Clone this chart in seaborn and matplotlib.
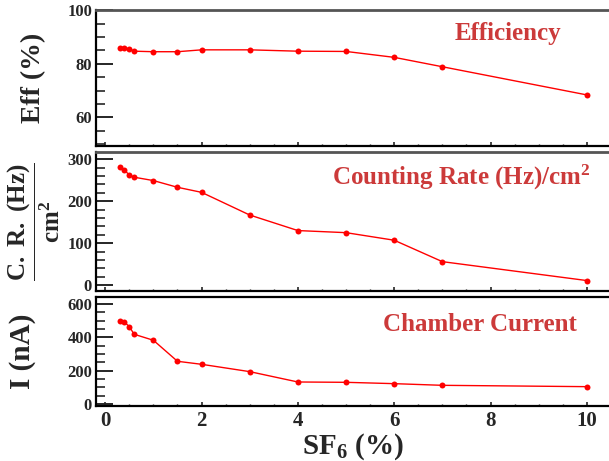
import matplotlib
matplotlib.use("Agg")
import matplotlib.pyplot as plt
import seaborn as sns
import pandas as pd
from matplotlib.ticker import MultipleLocator

sf6 = [0.3, 0.4, 0.5, 0.6, 1.0, 1.5, 2.0, 3.0, 4.0, 5.0, 6.0, 7.0, 10.0]
efficiency = [85.9, 86.0, 85.5, 84.7, 84.5, 84.5, 85.2, 85.2, 84.7, 84.6, 82.4, 78.9, 68.4]
count_rate = [282, 274, 262, 257, 249, 233, 221, 167, 130, 125, 107, 56, 11]
current = [498, 490, 464, 418, 382, 256, 238, 194, 132, 130, 122, 112, 104]

df = pd.DataFrame({"sf6": sf6, "eff": efficiency, "cr": count_rate, "cur": current})

sns.set_theme(style="ticks")
plt.rcParams["font.family"] = ["Liberation Serif", "DejaVu Serif"]
plt.rcParams["font.weight"] = "bold"
plt.rcParams["mathtext.fontset"] = "custom"
plt.rcParams["mathtext.rm"] = "Liberation Serif:bold"
plt.rcParams["mathtext.bf"] = "Liberation Serif:bold"
plt.rcParams["mathtext.it"] = "Liberation Serif:bold:italic"

fig = plt.figure(figsize=(6.09, 4.61), dpi=100)
left, width = 0.158, 0.842
ax1 = fig.add_axes([left, 0.683, width, 0.295])
ax2 = fig.add_axes([left, 0.369, width, 0.301], sharex=ax1)
ax3 = fig.add_axes([left, 0.120, width, 0.236], sharex=ax1)

red = "#ff0000"
txt_red = "#cc3a3a"
for ax, col in [(ax1, "eff"), (ax2, "cr"), (ax3, "cur")]:
    sns.lineplot(data=df, x="sf6", y=col, ax=ax, color=red, marker="o",
                 markersize=4.3, markeredgewidth=0, linewidth=1.0)
    ax.set_xlabel("")
    ax.spines["right"].set_visible(False)
    for s in ["left", "bottom"]:
        ax.spines[s].set_linewidth(1.6)
        ax.spines[s].set_color("black")
    ax.spines["top"].set_linewidth(2.0)
    ax.spines["top"].set_color("#555555")
    ax.tick_params(axis="y", which="major", direction="in", length=12, width=1.4,
                   labelsize=12, right=False, pad=3)
    ax.tick_params(axis="y", which="minor", direction="in", length=6.5, width=1.2, right=False)
    ax.tick_params(axis="x", which="major", direction="in", length=3, width=1.2, top=False)
    ax.tick_params(axis="x", which="minor", direction="in", length=1.8, width=1.0, top=False)
ax3.spines["top"].set_color("black")
ax3.spines["top"].set_linewidth(1.6)

ax1.set_xlim(-0.187, 10.46)
ax1.xaxis.set_major_locator(MultipleLocator(2))
ax1.xaxis.set_minor_locator(MultipleLocator(0.5))

ax1.set_ylim(49.3, 100)
ax1.yaxis.set_major_locator(MultipleLocator(20))
ax1.yaxis.set_minor_locator(MultipleLocator(5))
ax2.set_ylim(-13.6, 316.7)
ax2.yaxis.set_major_locator(MultipleLocator(100))
ax2.yaxis.set_minor_locator(MultipleLocator(20))
ax3.set_ylim(-10, 642)
ax3.yaxis.set_major_locator(MultipleLocator(200))
ax3.yaxis.set_minor_locator(MultipleLocator(50))

ax1.tick_params(axis="x", labelbottom=False)
ax2.tick_params(axis="x", labelbottom=False)
ax3.tick_params(axis="x", labelsize=15, pad=4)

ax1.set_ylabel("Eff (%)", fontsize=20, fontweight="bold")
ax2.set_ylabel(r"$\dfrac{\mathrm{C.\ R.\ (Hz)}}{\mathrm{cm}^{2}}$", fontsize=18)
ax3.set_ylabel("I (nA)", fontsize=21, fontweight="bold")
ax1.yaxis.set_label_coords(-0.097, 0.5)
ax2.yaxis.set_label_coords(-0.066, 0.5)
ax3.yaxis.set_label_coords(-0.117, 0.5)
ax3.set_xlabel(r"SF$_{6}$ (%)", fontsize=21, fontweight="bold", labelpad=0)

ax1.text(8.36, 91.4, "Efficiency", color=txt_red, fontsize=18, fontweight="bold",
         ha="center", va="center")
ax2.text(7.4, 256, r"Counting Rate (Hz)/cm$^{2}$", color=txt_red, fontsize=18,
         fontweight="bold", ha="center", va="center")
ax3.text(7.78, 474, "Chamber Current", color=txt_red, fontsize=18, fontweight="bold",
         ha="center", va="center")

for ax in (ax1, ax2, ax3):
    for lab in ax.get_yticklabels() + ax.get_xticklabels():
        lab.set_fontweight("bold")

fig.savefig("out.png", dpi=100)
